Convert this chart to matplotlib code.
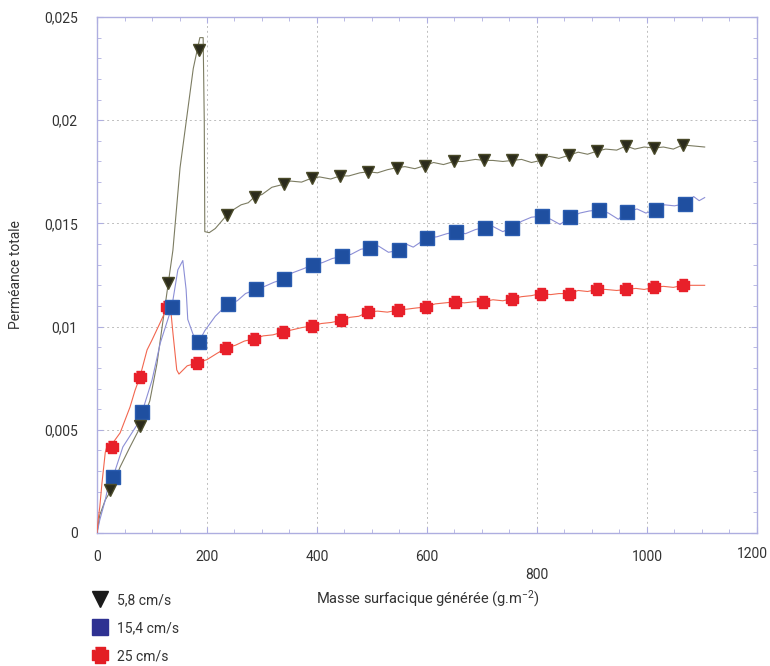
import numpy as np
import matplotlib
matplotlib.use("Agg")
import matplotlib.pyplot as plt
from matplotlib.lines import Line2D
from matplotlib.ticker import MultipleLocator
from matplotlib.transforms import ScaledTranslation

plt.rcParams['font.family'] = ['Roboto', 'DejaVu Sans']
plt.rcParams['mathtext.default'] = 'regular'

# permeance values are stored in units of 1e-3
# 5,8 cm/s : measured curve + triangle markers
v58_line_x = [0, 5, 15, 24, 42, 60, 78, 96, 109, 129,
              138, 151, 175, 187, 193, 195, 196, 204, 215, 236,
              250, 262, 275, 287, 300, 318, 340, 352, 372, 391,
              405, 425, 442, 458, 478, 493, 510, 528, 545, 560,
              578, 596, 612, 630, 649, 665, 688, 704, 720, 738,
              755, 772, 790, 807, 822, 840, 858, 875, 892, 909,
              925, 945, 962, 978, 995, 1013, 1030, 1048, 1065, 1085,
              1105]
v58_line_y = [0, 0.87, 1.6, 2.0, 3.2, 4.17, 5.1, 6.4, 8.2, 12.0,
              13.7, 17.7, 22.5, 24.0, 24.0, 20.0, 14.6, 14.55, 14.75, 15.4,
              15.7, 15.9, 16.0, 16.3, 16.4, 16.75, 16.9, 17.05, 17.0, 17.2,
              17.25, 17.15, 17.3, 17.3, 17.45, 17.5, 17.45, 17.6, 17.7, 17.75,
              17.65, 17.8, 17.95, 17.85, 18.0, 18.0, 18.1, 18.05, 18.05, 18.0,
              18.05, 18.1, 17.95, 18.05, 18.25, 18.15, 18.3, 18.45, 18.35, 18.5,
              18.6, 18.55, 18.75, 18.6, 18.7, 18.65, 18.7, 18.6, 18.8, 18.75,
              18.7]
v58_mark_x = [24, 78, 129, 185, 236, 287, 340, 391, 442, 493, 545,
              596, 649, 704, 755, 807, 858, 909, 962, 1013, 1065]
v58_mark_y = [2.1, 5.2, 12.1, 23.4, 15.4, 16.3, 16.9, 17.2, 17.3, 17.5, 17.7,
              17.8, 18.0, 18.05, 18.05, 18.05, 18.3, 18.5, 18.75, 18.65, 18.8]

# 15,4 cm/s
v154_line_x = [0, 5, 15, 20, 29, 47, 75, 82, 100, 115,
               136, 147, 156, 162, 165, 175, 185, 196, 215, 238,
               255, 270, 289, 305, 322, 340, 355, 375, 393, 410,
               428, 445, 462, 480, 496, 512, 530, 549, 562, 575,
               600, 618, 636, 653, 670, 688, 705, 720, 738, 755,
               772, 790, 809, 825, 842, 860, 878, 895, 913, 930,
               948, 964, 982, 998, 1016, 1032, 1050, 1069, 1085, 1095,
               1105]
v154_line_y = [0, 0.63, 1.6, 2.23, 2.71, 4.17, 5.33, 5.86, 7.4, 9.2,
               10.95, 12.75, 13.2, 11.8, 10.35, 9.6, 9.25, 9.8, 10.5, 11.1,
               11.25, 11.6, 11.8, 11.95, 12.15, 12.3, 12.6, 12.8, 13.0, 13.1,
               13.3, 13.4, 13.5, 13.75, 13.8, 13.9, 13.6, 13.7, 14.0, 13.85,
               14.3, 14.35, 14.5, 14.6, 14.5, 14.7, 14.8, 14.85, 14.6, 14.8,
               15.1, 15.3, 15.35, 15.2, 14.95, 15.3, 15.5, 15.6, 15.65, 15.5,
               15.2, 15.55, 15.7, 15.5, 15.65, 15.9, 15.85, 15.95, 16.3, 16.1,
               16.25]
v154_mark_x = [29, 82, 136, 185, 238, 289, 340, 393, 445, 496, 549,
               600, 653, 705, 755, 809, 860, 913, 964, 1016, 1069]
v154_mark_y = [2.71, 5.86, 10.95, 9.25, 11.1, 11.8, 12.3, 13.0, 13.4, 13.8, 13.7,
               14.3, 14.6, 14.8, 14.8, 15.35, 15.3, 15.65, 15.55, 15.65, 15.95]

# 25 cm/s
v25_line_x = [0, 2, 5, 9, 15, 18, 27, 42, 60, 69,
              78, 91, 100, 115, 127, 133, 138, 145, 149, 164,
              182, 200, 218, 235, 252, 268, 285, 302, 320, 338,
              356, 372, 391, 408, 426, 444, 460, 476, 493, 510,
              528, 547, 565, 580, 598, 615, 633, 651, 668, 685,
              702, 720, 738, 755, 772, 790, 807, 825, 840, 858,
              875, 892, 909, 925, 945, 962, 980, 995, 1013, 1030,
              1048, 1065, 1085, 1105]
v25_line_y = [0, 0.63, 1.26, 2.42, 3.9, 4.2, 4.3, 4.85, 6.1, 6.9,
              7.56, 8.87, 9.35, 10.2, 10.9, 11.1, 9.7, 7.9, 7.7, 8.1,
              8.24, 8.4, 8.7, 8.96, 9.1, 9.3, 9.4, 9.55, 9.6, 9.74,
              9.85, 9.95, 10.03, 10.15, 10.2, 10.3, 10.45, 10.5, 10.7, 10.75,
              10.7, 10.8, 10.85, 10.9, 10.95, 11.1, 11.15, 11.2, 11.15, 11.2,
              11.2, 11.3, 11.25, 11.35, 11.45, 11.5, 11.6, 11.55, 11.6, 11.6,
              11.75, 11.7, 11.8, 11.8, 11.75, 11.8, 11.85, 11.8, 11.9, 11.95,
              11.9, 12.0, 12.0, 12.0]
v25_mark_x = [27, 78, 127, 182, 235, 285, 338, 391, 444, 493, 547,
              598, 651, 702, 755, 807, 858, 909, 962, 1013, 1065]
v25_mark_y = [4.17, 7.56, 10.95, 8.24, 8.96, 9.4, 9.74, 10.03, 10.3, 10.7, 10.8,
              10.95, 11.2, 11.2, 11.35, 11.6, 11.6, 11.8, 11.8, 11.9, 12.0]

series_labels = ['5,8 cm/s', '15,4 cm/s', '25 cm/s']
xticks = [0, 200, 400, 600, 800, 1000, 1200]
xtick_labels = ['0', '200', '400', '600', '800', '1000', '1200']
yticks = [0, 0.005, 0.01, 0.015, 0.02, 0.025]
ytick_labels = ['0', '0,005', '0,01', '0,015', '0,02', '0,025']

# notched square used for the 25 cm/s points
cross = [(-0.3, 0.5), (0.3, 0.5), (0.3, 0.3), (0.5, 0.3), (0.5, -0.3), (0.3, -0.3),
         (0.3, -0.5), (-0.3, -0.5), (-0.3, -0.3), (-0.5, -0.3), (-0.5, 0.3), (-0.3, 0.3)]

fig = plt.figure(figsize=(7.7, 6.66), dpi=100)
ax = fig.add_axes([0.126, 0.1997, 0.857, 0.7748])

e3 = 1e-3
ax.plot(v58_line_x, np.array(v58_line_y) * e3, color='#7c7c62', lw=0.8, zorder=3)
ax.plot(v154_line_x, np.array(v154_line_y) * e3, color='#8c8fd6', lw=0.8, zorder=3)
ax.plot(v25_line_x, np.array(v25_line_y) * e3, color='#f2664f', lw=0.8, zorder=3)

ax.plot(v25_mark_x, np.array(v25_mark_y) * e3, ls='none', marker=cross, ms=8.5,
        color='#e8202a', mec='#e8202a', zorder=4)
ax.plot(v154_mark_x, np.array(v154_mark_y) * e3, ls='none', marker='s', ms=10,
        color='#1f4fa0', mec='#2a5cb0', zorder=5)
ax.plot(v58_mark_x, np.array(v58_mark_y) * e3, ls='none', marker='v', ms=8,
        color='#2b2b1c', mec='#4a4a2a', zorder=6)

ax.set_xlim(0, 1200)
ax.set_ylim(0, 0.025)
ax.set_xticks(xticks)
ax.set_xticklabels(xtick_labels)
ax.set_yticks(yticks)
ax.set_yticklabels(ytick_labels)
ax.xaxis.set_minor_locator(MultipleLocator(50))
ax.yaxis.set_minor_locator(MultipleLocator(0.001))

frame = '#aeaee0'
for s in ax.spines.values():
    s.set_color(frame)
    s.set_linewidth(1.0)
ax.tick_params(which='both', direction='in', top=True, right=True, color=frame)
ax.tick_params(which='major', length=4, labelsize=10, labelcolor='#333333')
ax.tick_params(which='minor', length=3)
ax.tick_params(axis='x', which='major', pad=12)
ax.tick_params(axis='y', which='major', pad=14)
ax.xaxis.get_major_ticks()[4].set_pad(25)
# last label sits a little to the left and higher
lbl = ax.get_xticklabels()[-1]
lbl.set_transform(lbl.get_transform() + ScaledTranslation(-5 / 100, 3 / 100, fig.dpi_scale_trans))

ax.grid(True, which='major', color='#bdbdbd', lw=0.7, ls=(0, (2, 3)))
ax.set_axisbelow(True)

ax.set_ylabel('Perméance totale', fontsize=10, color='#333333', labelpad=15)
fig.text(0.556, 1 - 599 / 666, 'Masse surfacique générée (g.m$^{-2}$)',
         ha='center', va='center', fontsize=10.5, color='#333333')

handles = [
    Line2D([], [], ls='none', marker='v', ms=11, color='#1a1a1a'),
    Line2D([], [], ls='none', marker='s', ms=11.5, color='#2e3192'),
    Line2D([], [], ls='none', marker=cross, ms=11.5, color='#e31e24'),
]
fig.legend(handles, series_labels, loc='upper left', bbox_to_anchor=(0.112, 1 - 586 / 666),
           frameon=False, fontsize=10, labelcolor='#333333', handlelength=1.0,
           handletextpad=0.7, labelspacing=1.02, borderpad=0)

fig.savefig('out.png', dpi=100)
